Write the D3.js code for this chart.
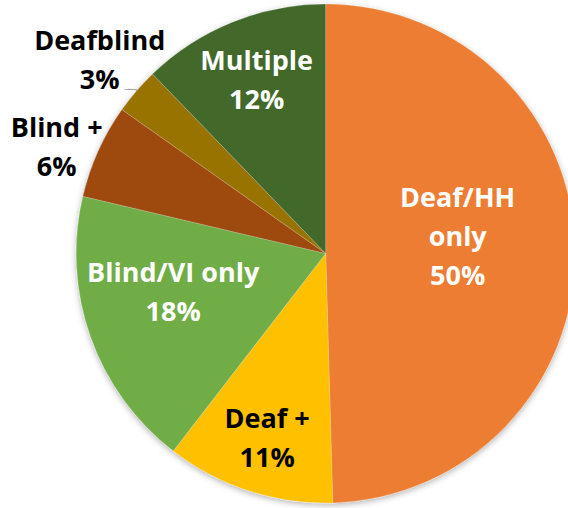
<!DOCTYPE html>
<html>
<head>
<meta charset="utf-8">
<script src="https://cdn.jsdelivr.net/npm/d3@7"></script>
<style>
  html, body { margin: 0; padding: 0; background: #fff; }
  svg { display: block; }
</style>
</head>
<body>
<div id="chart"></div>
<script>
// Chart data
const categories = ["Deaf/HH only", "Deaf +", "Blind/VI only", "Blind +", "Deafblind", "Multiple"];
const labelLines = [["Deaf/HH", "only"], ["Deaf +"], ["Blind/VI only"], ["Blind +"], ["Deafblind"], ["Multiple"]];
const shares = [49.5, 10.9, 18.2, 6.1, 3.0, 12.2];

const colours = ["#ED7D31", "#FFC000", "#70AD47", "#9E480E", "#997300", "#43682B"];
const textColours = ["#fff", "#000", "#fff", "#000", "#000", "#fff"];

// Label anchors (first baseline) relative to pie centre
const labelOffsets = [[132, -47], [-58.5, 174.5], [-152.5, 28], [-269, -116.5], [-226, -204], [-69, -183.5]];

const width = 568;
const height = 508;
const cx = 325.7;
const cy = 253.5;
const radius = 249.5;
const lineHeight = 39;

const svg = d3
  .select("#chart")
  .append("svg")
  .attr("width", width)
  .attr("height", height);

// Soft shadow under the pie
const filter = svg.append("defs").append("filter")
  .attr("id", "shadow")
  .attr("x", "-10%").attr("y", "-10%")
  .attr("width", "120%").attr("height", "120%");
filter.append("feDropShadow")
  .attr("dx", 0).attr("dy", 2)
  .attr("stdDeviation", 3)
  .attr("flood-color", "#000")
  .attr("flood-opacity", 0.3);

const g = svg.append("g").attr("transform", `translate(${cx},${cy})`);

const pie = d3.pie().sort(null).value((d) => d)(shares);
const arc = d3.arc().innerRadius(0).outerRadius(radius);

g.append("g")
  .attr("filter", "url(#shadow)")
  .selectAll("path")
  .data(pie)
  .enter()
  .append("path")
  .attr("d", arc)
  .attr("fill", (d, i) => colours[i])
  .attr("stroke", "#fff")
  .attr("stroke-opacity", 0.25)
  .attr("stroke-width", 0.75);

// Leader line for the small Deafblind slice
const db = pie[4];
const mid = (db.startAngle + db.endAngle) / 2;
const edge = [radius * Math.sin(mid), -radius * Math.cos(mid)];
const dbLabel = labelOffsets[4];
g.append("polyline")
  .attr("points", [[dbLabel[0] + 25, dbLabel[1] + lineHeight + 1], [edge[0], dbLabel[1] + lineHeight + 1], edge].map((p) => p.join(",")).join(" "))
  .attr("fill", "none")
  .attr("stroke", "#a6a6a6")
  .attr("stroke-width", 1);

// Labels
const total = d3.sum(shares);
const labels = g.selectAll("text.label")
  .data(pie)
  .enter()
  .append("text")
  .attr("class", "label")
  .attr("text-anchor", "middle")
  .style("font-family", "'Open Sans', Lato, sans-serif")
  .style("font-weight", "bold")
  .style("font-size", "27px")
  .attr("fill", (d, i) => textColours[i]);

labels.each(function (d, i) {
  const t = d3.select(this);
  const [x, y] = labelOffsets[i];
  const lines = labelLines[i].concat([Math.round((d.value / total) * 100) + "%"]);
  lines.forEach((line, k) => {
    t.append("tspan")
      .attr("x", x)
      .attr("y", y + k * lineHeight)
      .text(line);
  });
});
</script>
</body>
</html>
